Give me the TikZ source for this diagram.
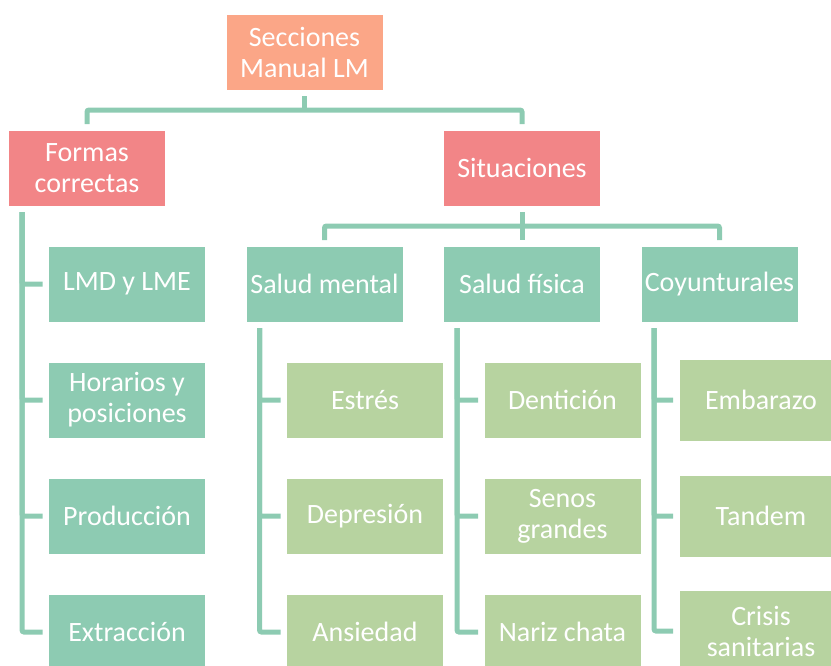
\documentclass[tikz,border=0pt]{standalone}
\usepackage{fontspec}
\setmainfont{Carlito}
\definecolor{salmon}{RGB}{251,166,135}
\definecolor{rosa}{RGB}{242,133,135}
\definecolor{menta}{RGB}{141,203,178}
\definecolor{verde}{RGB}{183,211,160}

\begin{document}
\begin{tikzpicture}[x=1pt,y=-1pt,
    box/.style={minimum width=157pt, minimum height=76pt, inner sep=0pt, outer sep=6pt,
        align=center, text=white, draw=white, line width=0.6pt,
        font=\fontsize{28}{31}\selectfont},
    rootbox/.style={box, fill=salmon},
    catbox/.style={box, fill=rosa},
    subbox/.style={box, fill=menta},
    leafbox/.style={box, fill=verde},
    bigleaf/.style={leafbox, minimum width=164pt, minimum height=82pt},
    conn/.style={draw=menta, line width=5pt, rounded corners=2pt}]
    \useasboundingbox (0,0) rectangle (831,665);

    % top levels
    \node[rootbox] (root) at (304.5,52) {Secciones\\Manual LM};
    \node[catbox] (formas) at (87,168) {Formas\\correctas};
    \node[catbox] (situ) at (522,168) {Situaciones};

    % situations
    \node[subbox] (mental) at (324.5,284) {Salud mental};
    \node[subbox] (fisica) at (522,284) {Salud física};
    \node[subbox] (coy) at (719.5,284) {Coyunturales};

    % correct forms
    \node[subbox] (lmd) at (127,284) {LMD y LME};
    \node[subbox] (horarios) at (127,400) {Horarios y\\posiciones};
    \node[subbox] (prod) at (127,516) {Producción};
    \node[subbox] (extr) at (127,632) {Extracción};

    % leaves
    \node[leafbox] (estres) at (365,400) {Estrés};
    \node[leafbox] (depre) at (365,516) {Depresión};
    \node[leafbox] (ansie) at (365,632) {Ansiedad};
    \node[leafbox] (denti) at (562.5,400) {Dentición};
    \node[leafbox] (senos) at (562.5,516) {Senos\\grandes};
    \node[leafbox] (nariz) at (562.5,632) {Nariz chata};
    \node[bigleaf] (emba) at (761,400) {Embarazo};
    \node[bigleaf] (tandem) at (761,516) {Tandem};
    \node[bigleaf] (crisis) at (761,631) {Crisis\\sanitarias};

    % connectors
    \draw[conn] (root.south) -- ++(0,14) coordinate (j1);
    \draw[conn] (formas.north) |- (j1) -| (situ.north);
    \draw[conn] (situ.south) -- (fisica.north);
    \path (situ.south) ++(0,14) coordinate (j2);
    \draw[conn] (mental.north) |- (j2) -| (coy.north);

    \coordinate (fc) at ([xshift=19.5pt]formas.south west);
    \coordinate (mc) at ([xshift=19.5pt]mental.south west);
    \coordinate (pc) at ([xshift=19.5pt]fisica.south west);
    \coordinate (cc) at ([xshift=19pt]coy.south west);
    \foreach \n in {lmd,horarios,prod,extr}
        \draw[conn] (fc) |- (\n.west);
    \foreach \n in {estres,depre,ansie}
        \draw[conn] (mc) |- (\n.west);
    \foreach \n in {denti,senos,nariz}
        \draw[conn] (pc) |- (\n.west);
    \foreach \n in {emba,tandem,crisis}
        \draw[conn] (cc) |- (\n.west);
\end{tikzpicture}
\end{document}
